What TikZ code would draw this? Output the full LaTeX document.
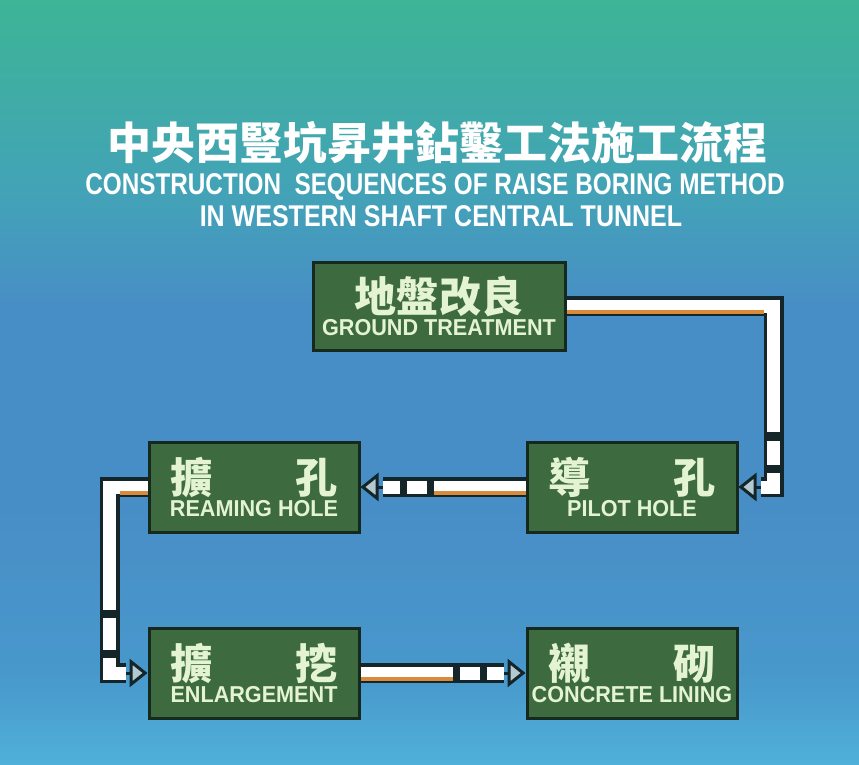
\documentclass[tikz,border=0pt]{standalone}
\usepackage{fontspec}
\usetikzlibrary{positioning,arrows.meta}

\newfontfamily\cjk{Noto Sans CJK TC}
\newfontfamily\titlefont{Liberation Sans}[FakeStretch=0.81]
\newfontfamily\boxfont{Liberation Sans}[FakeStretch=0.94]

\definecolor{bgtop}{HTML}{3DB596}
\definecolor{bgupper}{HTML}{43A2B8}
\definecolor{bgmid}{HTML}{488EC6}
\definecolor{bglow}{HTML}{4898CC}
\definecolor{bgbot}{HTML}{50B0D8}
\definecolor{boxfill}{HTML}{3D6B3F}
\definecolor{boxedge}{HTML}{15291F}
\definecolor{boxtext}{HTML}{E4F4D2}
\definecolor{pipeedge}{HTML}{14262A}
\definecolor{pipeorange}{HTML}{D98A3A}
\definecolor{tipfill}{HTML}{B4CACE}

\pgfdeclareverticalshading{bgshade}{100bp}{color(0bp)=(bgbot); color(25bp)=(bgbot);
  color(31bp)=(bglow); color(42bp)=(bgmid); color(55bp)=(bgmid); color(62bp)=(bgupper);
  color(75bp)=(bgtop); color(100bp)=(bgtop)}

\newcommand\boxzh{\cjk\bfseries\fontsize{42pt}{44pt}\selectfont}
\newcommand\boxen{\boxfont\bfseries\fontsize{23pt}{26pt}\selectfont}

\tikzset{
  box/.style={draw=boxedge, line width=3pt, fill=boxfill, text=boxtext,
    minimum width=210pt, minimum height=90pt, inner sep=0pt, align=center},
  pipe/.style={draw=white, line width=13pt,
    preaction={draw=pipeedge, line width=20pt, solid}},
  pipeglow/.style={draw=pipeorange, line width=4.5pt},
  tip/.style={draw=pipeedge, line width=3pt,
    -{Triangle[length=18pt, width=28pt, fill=tipfill]}},
  title/.style={text=white, inner sep=0pt}
}

\begin{document}
\begin{tikzpicture}[x=1pt, y=-1pt]
  \shade[shading=bgshade] (0,0) rectangle (859,765);
  \useasboundingbox (0,0) rectangle (859,765);

  \node[title, font=\cjk\bfseries\fontsize{44pt}{44pt}\selectfont] (titlezh) at (437,143)
    {中央西豎坑昇井鉆鑿工法施工流程};
  \node[title, font=\titlefont\bfseries\fontsize{30pt}{30pt}\selectfont] (titleen) at (435,187)
    {CONSTRUCTION\ \ SEQUENCES OF RAISE BORING METHOD};
  \node[title, font=\titlefont\bfseries\fontsize{30pt}{30pt}\selectfont, xscale=1.03] (titleen2) at (441,216)
    {IN WESTERN SHAFT CENTRAL TUNNEL};

  \node[box, minimum width=252pt, minimum height=88pt] (ground) at (439,306)
    {{\boxzh\makebox[170pt][s]{地\hfill 盤\hfill 改\hfill 良}}\\[2pt]{\boxen GROUND TREATMENT}};
  \node[box] (pilot) at (632,487)
    {{\boxzh\makebox[167pt][s]{導\hfill 孔}}\\[2pt]{\boxen PILOT HOLE}};
  \node[box, left=165pt of pilot] (ream)
    {{\boxzh\makebox[167pt][s]{擴\hfill 孔}}\\[2pt]{\boxen REAMING HOLE}};
  \node[box, below=93pt of ream] (enl)
    {{\boxzh\makebox[167pt][s]{擴\hfill 挖}}\\[2pt]{\boxen ENLARGEMENT}};
  \node[box, right=165pt of enl] (lining)
    {{\boxzh\makebox[167pt][s]{襯\hfill 砌}}\\[2pt]{\boxen CONCRETE LINING}};

  \draw[pipe, dash pattern=on 333pt off 9pt on 24pt off 8pt on 40pt]
    (ground.east) -- ++(207,0) |- ([xshift=22pt]pilot.east);
  \draw[pipeglow] ([yshift=-6pt]ground.east) -- ++(197,0);
  \draw[tip] ([xshift=22pt]pilot.east) -- (pilot.east);

  \draw[pipe, dash pattern=on 92pt off 7pt on 20pt off 7pt on 30pt]
    (pilot.west) -- ([xshift=22pt]ream.east);
  \draw[pipeglow] ([yshift=-6pt]pilot.west) -- ++(-92,0);
  \draw[tip] ([xshift=22pt]ream.east) -- (ream.east);

  \draw[pipe, dash pattern=on 161pt off 8pt on 32pt off 8pt on 40pt]
    (ream.west) -- ++(-38,0) |- ([xshift=-22pt]enl.west);
  \draw[pipeglow] ([yshift=-6pt]ream.west) -- ++(-28,0);
  \draw[tip] ([xshift=-22pt]enl.west) -- (enl.west);

  \draw[pipe, dash pattern=on 92pt off 7pt on 20pt off 7pt on 30pt]
    (enl.east) -- ([xshift=-22pt]lining.west);
  \draw[pipeglow] ([yshift=-6pt]enl.east) -- ++(92,0);
  \draw[tip] ([xshift=-22pt]lining.west) -- (lining.west);
\end{tikzpicture}
\end{document}
